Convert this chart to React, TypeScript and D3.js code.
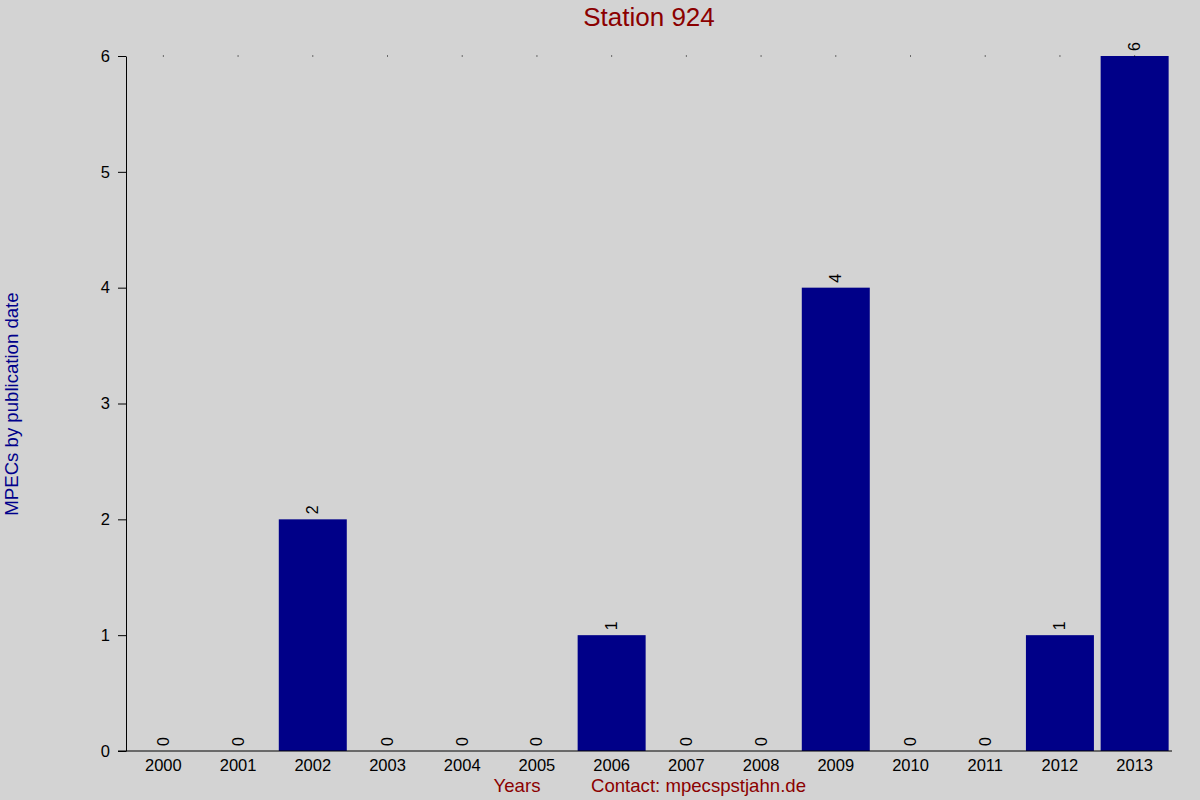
import React, { useEffect, useRef } from "react";
import * as d3 from "d3";

const years = ["2000", "2001", "2002", "2003", "2004", "2005", "2006", "2007", "2008", "2009", "2010", "2011", "2012", "2013"];
const counts = [0, 0, 2, 0, 0, 0, 1, 0, 0, 4, 0, 0, 1, 6];
const yTicks = [0, 1, 2, 3, 4, 5, 6];

const W = 1200;
const H = 800;
const margin = { top: 56, right: 28, bottom: 49, left: 126 };
const FONT = "Liberation Sans, Arial, sans-serif";

const App: React.FC = () => {
  const svgRef = useRef<SVGSVGElement>(null);

  useEffect(() => {
    if (svgRef.current === null) return;
    const svg = d3.select(svgRef.current);
    svg.selectAll("*").remove();

    const innerW = W - margin.left - margin.right;
    const innerH = H - margin.top - margin.bottom;

    const x = d3.scaleBand().domain(years).range([0, innerW]).paddingInner(0.09).paddingOuter(0.045);
    const y = d3.scaleLinear().domain([0, 6]).range([innerH, 0]);

    svg.append("rect").attr("width", W).attr("height", H).attr("fill", "#d3d3d3");

    const g = svg.append("g").attr("transform", `translate(${margin.left},${margin.top})`);

    // bars
    g.selectAll("rect.bar")
      .data(counts)
      .enter()
      .append("rect")
      .attr("class", "bar")
      .attr("x", (d, i) => x(years[i]) as number)
      .attr("width", x.bandwidth())
      .attr("y", d => y(d))
      .attr("height", d => innerH - y(d))
      .attr("fill", "#000088");

    // value labels, rotated
    g.selectAll("text.val")
      .data(counts)
      .enter()
      .append("text")
      .attr("class", "val")
      .attr("transform", (d, i) => {
        const cx = (x(years[i]) as number) + x.bandwidth() / 2;
        return `translate(${cx + 5.5},${y(d) - 5}) rotate(-90)`;
      })
      .attr("font-family", FONT)
      .attr("font-size", 16)
      .attr("fill", "#000")
      .text(d => String(d));

    // dots on the top line
    g.selectAll("rect.dot")
      .data(years)
      .enter()
      .append("rect")
      .attr("class", "dot")
      .attr("x", d => (x(d) as number) + x.bandwidth() / 2 - 0.5)
      .attr("y", -0.5)
      .attr("width", 1)
      .attr("height", 1)
      .attr("fill", "#000");

    // y axis
    const yAxis = g.append("g").call(
      d3.axisLeft(y).tickValues(yTicks).tickSize(8).tickSizeOuter(0).tickFormat(d3.format("d"))
    );
    yAxis.select(".domain").attr("stroke", "#000");
    yAxis.selectAll("text")
      .attr("font-family", FONT)
      .attr("font-size", 16.5)
      .attr("fill", "#000")
      .attr("x", -16);

    // x axis
    const xAxis = g.append("g")
      .attr("transform", `translate(0,${innerH})`)
      .call(d3.axisBottom(x).tickSize(0).tickSizeOuter(0));
    xAxis.select(".domain").remove();
    xAxis.append("line").attr("x1", -8).attr("x2", innerW).attr("stroke", "#000");
    xAxis.selectAll("text")
      .attr("font-family", FONT)
      .attr("font-size", 16.5)
      .attr("fill", "#000")
      .attr("dy", "1.05em");

    // title
    svg.append("text")
      .attr("x", 649).attr("y", 26)
      .attr("text-anchor", "middle")
      .attr("font-family", FONT)
      .attr("font-size", 26)
      .attr("fill", "#8b0000")
      .text("Station 924");

    // y label
    svg.append("text")
      .attr("transform", "translate(18,404) rotate(-90)")
      .attr("text-anchor", "middle")
      .attr("font-family", FONT)
      .attr("font-size", 18.6)
      .attr("fill", "#00008b")
      .text("MPECs by publication date");

    // x labels
    svg.append("text")
      .attr("x", 517).attr("y", 792)
      .attr("text-anchor", "middle")
      .attr("font-family", FONT)
      .attr("font-size", 18.6)
      .attr("fill", "#8b0000")
      .text("Years");
    svg.append("text")
      .attr("x", 591).attr("y", 792)
      .attr("font-family", FONT)
      .attr("font-size", 18.6)
      .attr("fill", "#8b0000")
      .text("Contact: mpecspstjahn.de");
  }, []);

  return <svg ref={svgRef} width={W} height={H} style={{ display: "block", position: "absolute", left: 0, top: 0 }} />;
};

export default App;
